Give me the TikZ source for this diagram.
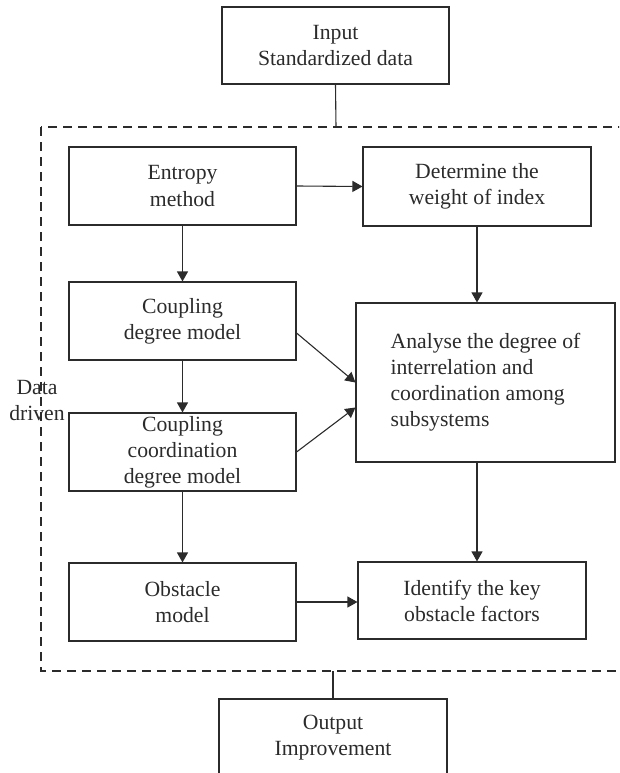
\documentclass[tikz,border=0pt]{standalone}
\usepackage{fontspec}
\setmainfont{Liberation Serif}
\usetikzlibrary{arrows.meta}
\definecolor{ink}{HTML}{2B2B2B}
\tikzset{
  box/.style={draw=ink, line width=1.1pt, rectangle, inner sep=0pt, align=center,
    text=ink, font=\fontsize{21.7}{26}\selectfont},
  conn/.style={draw=ink, line width=1.1pt},
  arr/.style={conn, -{Triangle[length=10pt,width=11pt]}},
  frame/.style={draw=ink, line width=1.1pt, dash pattern=on 9pt off 6pt},
  lbl/.style={text=ink, align=center, inner sep=0pt, font=\fontsize{21.7}{26}\selectfont}
}
\begin{document}
\begin{tikzpicture}[x=1pt,y=-1pt]
\useasboundingbox (0,0) rectangle (619,773);
\clip (0,0) rectangle (619,773);
% dashed frame
\draw[frame] (41,127) rectangle (660,671);
\coordinate (ftop) at (336,127);
\coordinate (fbot) at (333,671);
% nodes
\node[box, minimum width=227, minimum height=77] (inp) at (335.5,45.5) {Input\\Standardized data};
\node[box, minimum width=227, minimum height=78] (ent) at (182.5,186) {Entropy\\method};
\node[box, minimum width=228, minimum height=79] (det) at (477,186.5) {Determine the\\weight of index};
\node[box, minimum width=227, minimum height=78] (cdm) at (182.5,321) {Coupling\\degree model};
\node[box, minimum width=259, minimum height=159, align=left] (ana) at (485.5,382.5)
  {Analyse the degree of\\interrelation and\\coordination among\\subsystems};
\node[box, minimum width=227, minimum height=78] (ccdm) at (182.5,452) {Coupling\\coordination\\degree model};
\node[box, minimum width=227, minimum height=78] (obs) at (182.5,602) {Obstacle\\model};
\node[box, minimum width=228, minimum height=77] (idf) at (472,600.5) {Identify the key\\obstacle factors};
\node[box, minimum width=228, minimum height=77] (out) at (333,737.5) {Output\\Improvement};
\node[lbl] (dd) at (37,400) {Data\\driven};
% connectors
\draw[conn] (inp.south) -- (ftop);
\draw[conn] (fbot) -- (out.north);
\draw[arr] (ent.east) -- (det.west);
\draw[arr] (ent.south) -- (cdm.north);
\draw[arr] (det.south) -- (det.south |- ana.north);
\draw[arr] ([yshift=-12pt]cdm.east) -- (ana.west);
\draw[arr] (ccdm.east) -- ([yshift=-25pt]ana.west);
\draw[arr] (cdm.south) -- (ccdm.north);
\draw[arr] (ccdm.south) -- (obs.north);
\draw[arr] (det.south |- ana.south) -- (det.south |- idf.north);
\draw[arr] (obs.east) -- (obs.east -| idf.west);
\end{tikzpicture}
\end{document}
